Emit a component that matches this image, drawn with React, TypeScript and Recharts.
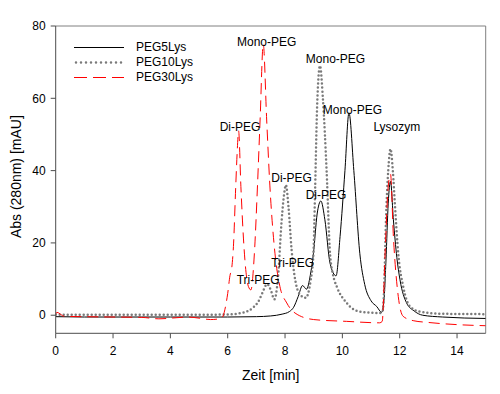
import React from "react";
import {
  LineChart, Line, XAxis, YAxis, ReferenceLine, ReferenceDot,
} from "recharts";

// retention time (min) / absorbance (mAU)
const peg5Time = [0, 1, 2, 3, 4, 5, 6, 7, 7.5, 7.9, 8.15, 8.3, 8.46, 8.61, 8.75, 8.88, 8.99, 9.12, 9.25, 9.39, 9.57, 9.78, 9.92, 10.09, 10.23, 10.4, 10.61, 10.78, 11.0, 11.2, 11.37, 11.45, 11.52, 11.6, 11.68, 11.78, 11.9, 12.01, 12.24, 12.5, 12.8, 13.5, 15];
const peg5Abs = [-0.4, -0.5, -0.5, -0.5, -0.5, -0.5, -0.5, -0.4, -0.2, 0.3, 1, 2.2, 5.2, 8.2, 7.2, 11, 17, 28, 31.6, 26.4, 14.4, 10.9, 21.8, 40, 56, 40, 17, 8.5, 4, 2.4, 0.8, 4, 15, 31, 37, 26.4, 16, 9.8, 3.4, 1.2, 0, -0.5, -0.9];

const peg10Time = [0, 2, 4, 6, 6.45, 6.72, 6.9, 7.07, 7.2, 7.38, 7.5, 7.63, 7.75, 7.88, 7.96, 8.03, 8.12, 8.23, 8.4, 8.55, 8.72, 8.88, 8.99, 9.05, 9.12, 9.22, 9.32, 9.45, 9.57, 9.68, 9.8, 10.15, 10.6, 11.3, 11.4, 11.46, 11.52, 11.6, 11.68, 11.76, 11.83, 11.95, 12.12, 12.36, 12.7, 13.5, 15];
const peg10Abs = [0.1, 0.1, 0.1, 0.2, 0.6, 1.2, 2.2, 3.8, 6, 8.6, 7, 4.4, 10, 26, 33, 36, 30, 18, 8, 5.5, 4.8, 9, 17, 35, 58, 69, 60, 40, 17, 11, 8, 3.4, 1, 0.6, 1, 8, 26, 40, 46, 40, 31, 17, 8, 2.4, 1, 0.4, 0.3];

const peg30Time = [0, 0.04, 0.3, 1, 2, 3, 3.6, 4.2, 4.6, 5, 5.4, 5.7, 5.82, 5.9, 6.0, 6.08, 6.14, 6.2, 6.28, 6.33, 6.38, 6.46, 6.53, 6.6, 6.72, 6.81, 6.93, 7.04, 7.13, 7.24, 7.36, 7.47, 7.65, 7.82, 8.06, 8.35, 9, 10.15, 11.3, 11.39, 11.49, 11.6, 11.68, 11.78, 11.95, 12.12, 12.47, 13, 14, 15];
const peg30Abs = [0.2, 0.8, -0.3, -0.4, -0.5, -0.6, -1, -0.7, -0.5, -0.8, -1.2, -1, -0.5, 1.5, 6, 11, 13, 19, 35.6, 45, 51, 35.6, 24, 15.3, 8, 7, 17, 36, 54, 75, 54, 36, 17, 8, 3.4, 0.6, -1.2, -1.7, -2.1, -1.7, 17, 35.6, 39, 21.8, 5.2, -0.3, -1.5, -2, -2.6, -2.9];

const peakNames = ["Mono-PEG", "Mono-PEG", "Mono-PEG", "Di-PEG", "Lysozym", "Di-PEG", "Di-PEG", "Tri-PEG", "Tri-PEG"];
const peakTime = [7.36, 9.76, 10.35, 6.43, 11.9, 8.23, 9.43, 8.27, 7.06];
const peakAbs = [75.6, 71.0, 56.9, 52.1, 52.0, 38.0, 33.4, 14.5, 9.7];

const xTicks = [0, 2, 4, 6, 8, 10, 12, 14];
const yTicks = [0, 20, 40, 60, 80];

const toPoints = (t: number[], v: number[]) => t.map((x, i) => ({ t: x, v: v[i] }));

const series = [
  { name: "PEG5Lys", data: toPoints(peg5Time, peg5Abs), stroke: "#000000", width: 1, dash: undefined as string | undefined, legendDash: undefined as string | undefined, cap: "butt" },
  { name: "PEG10Lys", data: toPoints(peg10Time, peg10Abs), stroke: "#7a7a7a", width: 2.5, dash: "0 4", legendDash: "0 5", cap: "round" },
  { name: "PEG30Lys", data: toPoints(peg30Time, peg30Abs), stroke: "#ff0000", width: 1, dash: "11 6", legendDash: "13 6", cap: "butt" },
];

const AXIS = "#4d4d4d";
const FRAME = "#808080";
const FONT = "'Liberation Sans', Arial, sans-serif";

function LegendBox() {
  return (
    <div style={{ position: "absolute", left: 74, top: 40.2, fontSize: 12, fontFamily: FONT, color: "#000" }}>
      {series.map((s) => (
        <div key={s.name} style={{ display: "flex", alignItems: "center", height: 15 }}>
          <svg width={50} height={15} style={{ display: "block" }}>
            <line
              x1={s.cap === "round" ? 2 : 0} x2={50} y1={7.5} y2={7.5}
              stroke={s.stroke} strokeWidth={s.width}
              strokeDasharray={s.legendDash}
              strokeLinecap={s.cap as any}
            />
          </svg>
          <span style={{ marginLeft: 12, lineHeight: "15px" }}>{s.name}</span>
        </div>
      ))}
    </div>
  );
}

export default function App() {
  return (
    <div style={{ position: "absolute", left: 0, top: 0, width: 500, height: 394, background: "#fff" }}>
      <LineChart
        width={500}
        height={394}
        margin={{ top: 26, right: 14.3, left: 5.7, bottom: 30.7 }}
        style={{ fontFamily: FONT }}
      >
        <XAxis
          dataKey="t"
          type="number"
          domain={[0, 15]}
          ticks={xTicks}
          height={30}
          allowDataOverflow
          stroke={AXIS}
          tickSize={5}
          tickMargin={8}
          tick={{ fill: "#000", fontSize: 12 }}
          label={{ value: "Zeit [min]", position: "bottom", offset: 7, fill: "#000", fontSize: 14 }}
        />
        <YAxis
          type="number"
          domain={[-5, 80]}
          ticks={yTicks}
          width={50}
          allowDataOverflow
          stroke={AXIS}
          tickSize={5}
          tickMargin={5}
          tick={{ fill: "#000", fontSize: 12 }}
          label={{ value: "Abs (280nm) [mAU]", angle: -90, position: "center", dx: -15, dy: -3, fill: "#000", fontSize: 14 }}
        />
        <ReferenceLine y={80} stroke={FRAME} strokeWidth={1} />
        <ReferenceLine x={15} stroke={FRAME} strokeWidth={1} />
        {series.map((s) => (
          <Line
            key={s.name}
            name={s.name}
            data={s.data}
            dataKey="v"
            type="monotone"
            stroke={s.stroke}
            strokeWidth={s.width}
            strokeDasharray={s.dash}
            strokeLinecap={s.cap as any}
            dot={false}
            activeDot={false}
            isAnimationActive={false}
          />
        ))}
        {peakNames.map((n, i) => (
          <ReferenceDot
            key={i}
            x={peakTime[i]}
            y={peakAbs[i]}
            r={0}
            fill="none"
            stroke="none"
            label={{ value: n, position: "center", fill: "#000", fontSize: 12 }}
          />
        ))}
      </LineChart>
      <LegendBox />
    </div>
  );
}
